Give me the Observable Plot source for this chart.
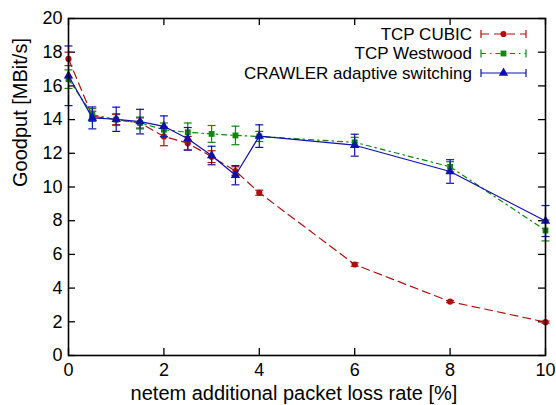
<!DOCTYPE html>
<html>
<head>
<meta charset="utf-8">
<script src="https://cdn.jsdelivr.net/npm/d3@7"></script>
<script src="https://cdn.jsdelivr.net/npm/@observablehq/plot@0.6"></script>
<style>
  html, body { margin: 0; padding: 0; background: #fff; }
  #chart { width: 556px; height: 405px; }
</style>
</head>
<body>
<div id="chart"></div>
<script>
// ---- data ----
const lossRate = [0, 0.5, 1, 1.5, 2, 2.5, 3, 3.5, 4, 6, 8, 10];
const cubic      = [17.6, 14.2, 14.0, 13.8, 13.0, 12.6, 11.8, 10.95, 9.66, 5.4, 3.2, 1.98];
const cubicErr   = [0.4, 0.3, 0.3, 0.3, 0.55, 0.4, 0.35, 0.25, 0.15, 0.1, 0.06, 0.06];
const westwood   = [16.4, 14.3, 14.0, 13.8, 13.4, 13.25, 13.15, 13.06, 13.0, 12.65, 11.2, 7.42];
const westwoodErr= [0.55, 0.35, 0.35, 0.35, 0.4, 0.55, 0.5, 0.55, 0.3, 0.3, 0.3, 0.62];
const crawler    = [16.6, 14.1, 14.02, 13.88, 13.6, 12.86, 11.87, 10.7, 13.02, 12.48, 10.92, 7.98];
const crawlerErr = [1.77, 0.65, 0.72, 0.73, 0.62, 0.67, 0.55, 0.57, 0.67, 0.65, 0.7, 0.92];
const xTicks = [0, 2, 4, 6, 8, 10];
const yTicks = [0, 2, 4, 6, 8, 10, 12, 14, 16, 18, 20];
const seriesNames = ["TCP CUBIC", "TCP Westwood", "CRAWLER adaptive switching"];
const xLabel = "netem additional packet loss rate [%]";
const yLabel = "Goodput [MBit/s]";

// ---- styles ----
const W = 556, H = 405, mL = 68, mR = 11, mT = 18, mB = 50;
const innerW = W - mL - mR, innerH = H - mT - mB;
const FONT = "'Liberation Sans', Arial, Helvetica, sans-serif";
const styles = [
  {color: "#b00d0d", dash: "8,5", symbol: "circle", r: 3.1},
  {color: "#0a8a0a", dash: "5,4,1.5,4", symbol: "square", r: 3.3},
  {color: "#1010b0", dash: null, symbol: "triangle", r: 3.5}
];
const capSymbol = {draw(ctx, size) { const w = Math.sqrt(size / Math.PI); ctx.moveTo(-w, 0); ctx.lineTo(w, 0); }};

const series = [cubic, westwood, crawler].map((vals, i) =>
  lossRate.map((x, j) => ({x, y: vals[j], e: [cubicErr, westwoodErr, crawlerErr][i][j]})));

function seriesMarks(data, s) {
  return [
    Plot.ruleX(data, {x: "x", y1: d => d.y - d.e, y2: d => d.y + d.e, stroke: s.color, strokeWidth: 1.2}),
    Plot.dot(data, {x: "x", y: d => d.y + d.e, symbol: capSymbol, r: 4, stroke: s.color, strokeWidth: 1.2}),
    Plot.dot(data, {x: "x", y: d => d.y - d.e, symbol: capSymbol, r: 4, stroke: s.color, strokeWidth: 1.2}),
    Plot.line(data, {x: "x", y: "y", stroke: s.color, strokeWidth: 1.2, strokeDasharray: s.dash}),
    Plot.dot(data, {x: "x", y: "y", symbol: s.symbol, r: s.r, fill: s.color, stroke: "none"})
  ];
}

const chart = Plot.plot({
  width: W, height: H,
  marginLeft: mL, marginRight: mR, marginTop: mT, marginBottom: mB,
  x: {domain: [0, 10]},
  y: {domain: [0, 20]},
  style: {fontFamily: FONT, fontSize: "18px", color: "#000", background: "#fff"},
  marks: [
    Plot.axisX(xTicks, {tickSize: 0, tickPadding: 8, label: null, fontSize: 18}),
    Plot.axisY(yTicks, {tickSize: 0, tickPadding: 6, label: null, fontSize: 18}),
    Plot.tickX(xTicks, {x: d => d, insetTop: innerH - 7, stroke: "#000", strokeWidth: 1.3}),
    Plot.tickX(xTicks, {x: d => d, insetBottom: innerH - 7, stroke: "#000", strokeWidth: 1.3}),
    Plot.tickY(yTicks, {y: d => d, insetRight: innerW - 7, stroke: "#000", strokeWidth: 1.3}),
    Plot.tickY(yTicks, {y: d => d, insetLeft: innerW - 7, stroke: "#000", strokeWidth: 1.3}),
    ...seriesMarks(series[0], styles[0]),
    ...seriesMarks(series[1], styles[1]),
    ...seriesMarks(series[2], styles[2]),
    Plot.frame({stroke: "#000", strokeWidth: 1.6}),
    Plot.text([yLabel], {text: d => d, frameAnchor: "left", rotate: -90, dx: -47.5, fontSize: 20}),
    Plot.text([xLabel], {text: d => d, frameAnchor: "bottom", dy: 44, dx: -13, fontSize: 20})
  ]
});
document.getElementById("chart").appendChild(chart);

// ---- legend (inside plot, top right) ----
const svg = d3.select(chart);
const lg = svg.append("g").attr("font-family", FONT).attr("font-size", 17);
const rowsY = [34, 53.5, 73];
const textRight = 472, sx1 = 481, sx2 = 526;
seriesNames.forEach((name, i) => {
  const s = styles[i], y = rowsY[i];
  lg.append("text").attr("x", textRight).attr("y", y).attr("text-anchor", "end").attr("dy", "0.35em").attr("fill", "#000").text(name);
  lg.append("line").attr("x1", sx1).attr("x2", sx2).attr("y1", y).attr("y2", y)
    .attr("stroke", s.color).attr("stroke-width", 1.2).attr("stroke-dasharray", s.dash);
  [sx1, sx2].forEach(x => lg.append("line").attr("x1", x).attr("x2", x).attr("y1", y - 4).attr("y2", y + 4)
    .attr("stroke", s.color).attr("stroke-width", 1.2));
  const sym = {circle: d3.symbolCircle, square: d3.symbolSquare, triangle: d3.symbolTriangle}[s.symbol];
  lg.append("path").attr("transform", `translate(${(sx1 + sx2) / 2},${y})`)
    .attr("d", d3.symbol(sym, Math.PI * s.r * s.r)()).attr("fill", s.color);
});
</script>
</body>
</html>
